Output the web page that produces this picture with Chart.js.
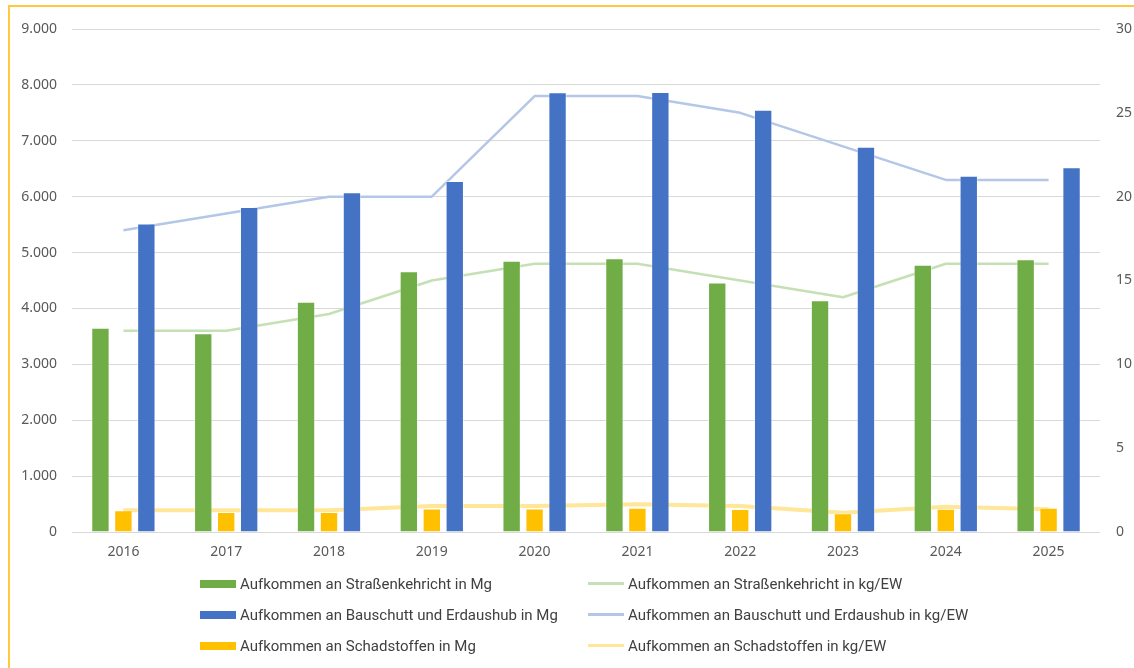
<!DOCTYPE html>
<html lang="de">
<head>
<meta charset="utf-8">
<title>Aufkommen</title>
<script src="https://cdn.jsdelivr.net/npm/chart.js@4.4.1/dist/chart.umd.min.js"></script>
<style>
  html, body { margin: 0; padding: 0; background: #fff; }
  #wrap { position: relative; width: 1134px; height: 668px; overflow: hidden; }
  #frame {
    position: absolute; left: 8px; top: 5px; right: -4px; bottom: -4px;
    border-top: 2px solid #FFC83D; border-left: 2px solid #FFC83D;
  }
  canvas { position: absolute; left: 0; top: 0; }
  #legend {
    position: absolute; left: 200px; top: 574px;
    display: grid; grid-template-columns: 388px 420px; row-gap: 12px;
    font-family: Roboto, "Noto Sans", sans-serif;
    font-size: 15px; color: #404040;
  }
  .item { display: flex; align-items: center; height: 19px; white-space: nowrap; }
  .swatch { width: 36px; margin-right: 4px; }
</style>
</head>
<body>
<div id="wrap">
  <div id="frame"></div>
  <canvas id="chart" width="1134" height="668"></canvas>
  <div id="legend"></div>
</div>
<script>
const years = ['2016', '2017', '2018', '2019', '2020', '2021', '2022', '2023', '2024', '2025'];

// Mg (linke Achse)
const strassenMg = [3655, 3555, 4120, 4665, 4855, 4900, 4465, 4145, 4780, 4880];
const bauschuttMg = [5520, 5815, 6080, 6280, 7870, 7875, 7555, 6895, 6375, 6525];
const schadstoffMg = [390, 360, 360, 420, 420, 435, 410, 335, 415, 435];

// kg/EW (rechte Achse)
const strassenKg = [12, 12, 13, 15, 16, 16, 15, 14, 16, 16];
const bauschuttKg = [18, 19, 20, 20, 26, 26, 25, 23, 21, 21];
const schadstoffKg = [1.3, 1.3, 1.3, 1.55, 1.55, 1.65, 1.55, 1.15, 1.5, 1.35];

const leftTicks = [0, 1000, 2000, 3000, 4000, 5000, 6000, 7000, 8000, 9000];
const rightTicks = [0, 5, 10, 15, 20, 25, 30];

const green = '#70AD47', blue = '#4472C4', yellow = '#FFC000';
const greenLight = '#C5E0B4', blueLight = '#B4C7E7', yellowLight = '#FFE699';

const fmt = v => String(v).replace(/\B(?=(\d{3})+(?!\d))/g, '.');

const tickFont = { family: '"Noto Sans", "Open Sans", sans-serif', size: 14 };

const bar = (label, data, color) => ({
  type: 'bar', label, data, yAxisID: 'y', backgroundColor: color,
  borderColor: 'rgba(255,255,255,0.45)', borderWidth: 1,
  categoryPercentage: 0.67, barPercentage: 0.8
});
const line = (label, data, color, width) => ({
  type: 'line', label, data, yAxisID: 'y2', borderColor: color, backgroundColor: color,
  borderWidth: width, borderJoinStyle: 'round', pointRadius: 0, tension: 0, fill: false
});

new Chart(document.getElementById('chart'), {
  data: {
    labels: years,
    datasets: [
      bar('Aufkommen an Straßenkehricht in Mg', strassenMg, green),
      bar('Aufkommen an Schadstoffen in Mg', schadstoffMg, yellow),
      bar('Aufkommen an Bauschutt und Erdaushub in Mg', bauschuttMg, blue),
      line('Aufkommen an Straßenkehricht in kg/EW', strassenKg, greenLight, 2.5),
      line('Aufkommen an Bauschutt und Erdaushub in kg/EW', bauschuttKg, blueLight, 2.5),
      line('Aufkommen an Schadstoffen in kg/EW', schadstoffKg, yellowLight, 4)
    ]
  },
  options: {
    responsive: false,
    animation: false,
    layout: { padding: { left: 8, top: 29, right: 0, bottom: 96 } },
    plugins: { legend: { display: false }, tooltip: { enabled: false } },
    scales: {
      x: {
        grid: { display: false, drawTicks: false },
        border: { display: false },
        ticks: { color: '#595959', font: tickFont, padding: 12, maxRotation: 0 },
        afterFit: s => { s.height = 40; }
      },
      y: {
        position: 'left', min: 0, max: 9000,
        afterBuildTicks: s => { s.ticks = leftTicks.map(v => ({ value: v })); },
        grid: { color: '#D9D9D9', lineWidth: 1, drawTicks: false },
        border: { display: false },
        ticks: { color: '#595959', font: tickFont, padding: 15, callback: v => fmt(v) },
        afterFit: s => { s.width = 64; }
      },
      y2: {
        position: 'right', min: 0, max: 30,
        afterBuildTicks: s => { s.ticks = rightTicks.map(v => ({ value: v })); },
        grid: { display: false, drawTicks: false },
        border: { display: false },
        ticks: { color: '#595959', font: tickFont, padding: 16 },
        afterFit: s => { s.width = 34; }
      }
    }
  }
});

// legend: bars left column, lines right column
const legendRows = [
  ['Aufkommen an Straßenkehricht in Mg', green, 'bar'],
  ['Aufkommen an Straßenkehricht in kg/EW', greenLight, 'line'],
  ['Aufkommen an Bauschutt und Erdaushub in Mg', blue, 'bar'],
  ['Aufkommen an Bauschutt und Erdaushub in kg/EW', blueLight, 'line'],
  ['Aufkommen an Schadstoffen in Mg', yellow, 'bar'],
  ['Aufkommen an Schadstoffen in kg/EW', yellowLight, 'line']
];
const legend = document.getElementById('legend');
legendRows.forEach(([text, color, kind]) => {
  const item = document.createElement('div');
  item.className = 'item';
  const sw = document.createElement('span');
  sw.className = 'swatch';
  sw.style.background = color;
  sw.style.height = kind === 'bar' ? '8px' : '3px';
  item.appendChild(sw);
  item.appendChild(document.createTextNode(text));
  legend.appendChild(item);
});
</script>
</body>
</html>
